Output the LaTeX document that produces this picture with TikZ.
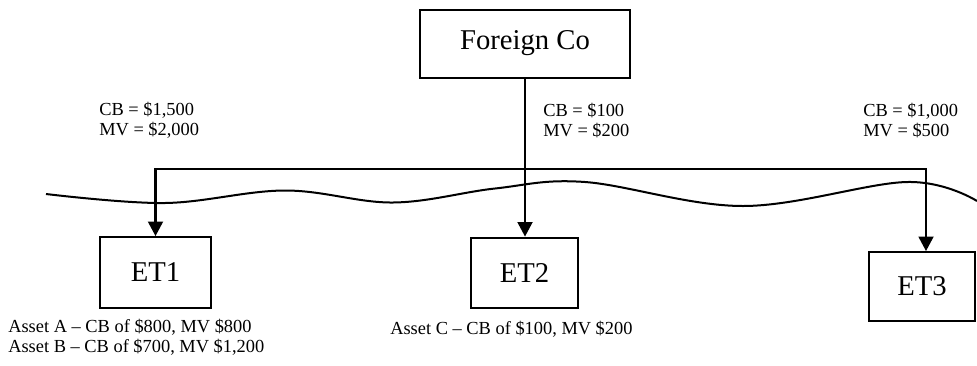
\documentclass[tikz,border=0pt]{standalone}
\usepackage{fontspec}
\setmainfont{Liberation Serif}
\usetikzlibrary{arrows.meta}
\begin{document}
\begin{tikzpicture}[x=0.75pt,y=-0.75pt,
  entity/.style={draw,line width=1.5pt,inner sep=0pt,font=\fontsize{21.5}{24}\selectfont},
  note/.style={anchor=base west,inner sep=0pt,align=left,font=\fontsize{13.8}{15}\selectfont},
  conn/.style={line width=2.2pt,line join=miter,{Triangle[width=11pt,length=11pt]}-{Triangle[width=11pt,length=11pt]}},
  arr/.style={line width=2.2pt,-{Triangle[width=11pt,length=11pt]}},
  wave/.style={line width=1.5pt}]
\useasboundingbox (0,0) rectangle (977,365);
% boxes
\node[entity,minimum width=158pt,minimum height=51pt] (fc) at (525,43.5) {Foreign Co};
\node[entity,minimum width=83pt,minimum height=53pt] (et1) at (155.5,272.5) {ET1};
\node[entity,minimum width=80pt,minimum height=53pt] (et2) at (524.5,273) {ET2};
\node[entity,minimum width=80pt,minimum height=51.5pt] (et3) at (922,286.5) {ET3};
% wave line
\draw[wave] plot[smooth,tension=0.6] coordinates {(46,194) (165,203) (285,190.5) (393,202.5) (495,188.5) (585,182) (743,206) (907,182) (977,201)};
% connectors
\coordinate (bar) at (0,169);
\draw[arr] (fc.south) -- (fc.south |- et2.north);
\draw[conn] (et1.north) -- (et1.north |- bar) -- ([xshift=3pt]et3.north |- bar) -- ([xshift=3pt]et3.north);
% notes (base = baseline of last line)
\node[note] (n1) at (99,135) {CB = \$1,500\\MV = \$2,000};
\node[note] (n2) at (543,136) {CB = \$100\\MV = \$200};
\node[note] (n3) at (863,136) {CB = \$1,000\\MV = \$500};
\node[note] (a1) at (8,352) {Asset A -- CB of \$800, MV \$800\\Asset B -- CB of \$700, MV \$1,200};
\node[note] (a2) at (390,334) {Asset C -- CB of \$100, MV \$200};
\end{tikzpicture}
\end{document}
